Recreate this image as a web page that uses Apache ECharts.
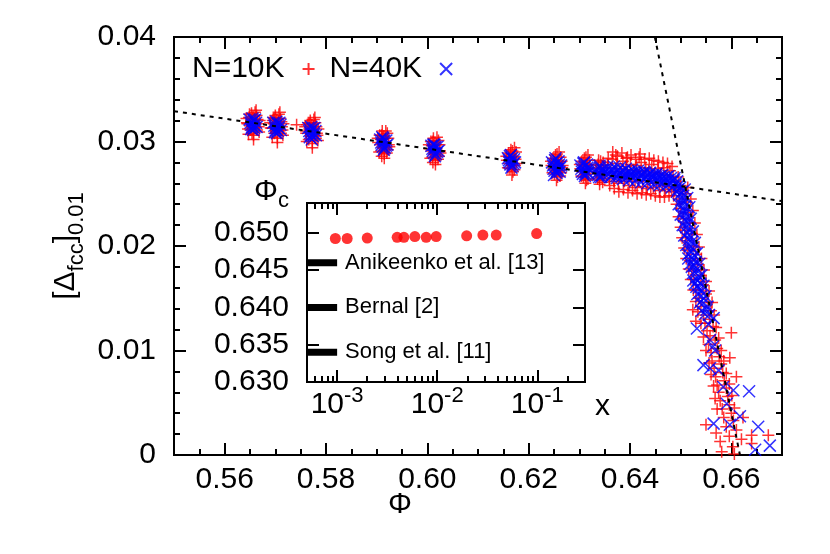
<!DOCTYPE html>
<html>
<head>
<meta charset="utf-8">
<script src="https://cdn.jsdelivr.net/npm/echarts@6/dist/echarts.min.js"></script>
<style>
  html, body { margin: 0; background: #fff; }
  #chart { width: 830px; height: 554px; }
</style>
</head>
<body>
<div id="chart"></div>
<script>
  var FONT = '"Liberation Sans", Arial, Helvetica, sans-serif';

  // ---- main panel ----
  var phiMin = 0.55, phiMax = 0.67;
  var phiTicks = [0.56, 0.58, 0.60, 0.62, 0.64, 0.66];
  var phiMinor = [0.555, 0.565, 0.57, 0.575, 0.585, 0.59, 0.595, 0.605, 0.61, 0.615, 0.625, 0.63, 0.635, 0.645, 0.65, 0.655, 0.665];
  var deltaMin = 0, deltaMax = 0.04;
  var deltaTicks = [0.01, 0.02, 0.03];
  var deltaMinor = [0.002, 0.004, 0.006, 0.008, 0.012, 0.014, 0.016, 0.018, 0.022, 0.024, 0.026, 0.028, 0.032, 0.034, 0.036, 0.038];

  // N=10K  (phi, [Delta_fcc]_0.01)
  var n10k = [
    [0.5644,0.0318],[0.5648,0.0323],[0.5651,0.0311],[0.5653,0.0327],[0.5655,0.0316],[0.5657,0.0306],[0.5659,0.0321],
    [0.5661,0.0313],[0.5663,0.0325],[0.5666,0.0317],[0.5668,0.0309],[0.5650,0.0315],[0.5662,0.0330],[0.5646,0.0312],
    [0.5643,0.0322],[0.5647,0.0307],[0.5652,0.0320],[0.5654,0.0308],[0.5656,0.0324],[0.5658,0.0313],[0.5660,0.0328],
    [0.5664,0.0311],[0.5665,0.0321],[0.5667,0.0314],[0.5669,0.0320],[0.5645,0.0317],[0.5657,0.0302],[0.5660,0.0318],[0.5649,0.0326],
    [0.5691,0.0313],[0.5695,0.0320],[0.5698,0.0308],[0.5700,0.0325],[0.5702,0.0315],[0.5704,0.0303],[0.5706,0.0319],
    [0.5708,0.0310],[0.5710,0.0322],[0.5713,0.0314],[0.5715,0.0306],[0.5697,0.0317],[0.5709,0.0328],
    [0.5690,0.0318],[0.5694,0.0304],[0.5699,0.0322],[0.5701,0.0310],[0.5703,0.0321],[0.5705,0.0311],[0.5707,0.0326],
    [0.5711,0.0308],[0.5712,0.0319],[0.5714,0.0311],[0.5716,0.0317],[0.5693,0.0313],[0.5704,0.0299],[0.5706,0.0315],[0.5696,0.0323],
    [0.5760,0.0310],[0.5763,0.0316],[0.5766,0.0302],[0.5769,0.0320],[0.5771,0.0309],[0.5773,0.0298],[0.5775,0.0314],
    [0.5777,0.0305],[0.5779,0.0318],[0.5782,0.0308],[0.5784,0.0301],[0.5767,0.0312],[0.5778,0.0323],[0.5742,0.0316],
    [0.5759,0.0314],[0.5762,0.0300],[0.5768,0.0317],[0.5770,0.0305],[0.5772,0.0316],[0.5774,0.0306],[0.5776,0.0321],
    [0.5780,0.0303],[0.5781,0.0314],[0.5783,0.0306],[0.5785,0.0312],[0.5761,0.0308],[0.5773,0.0294],[0.5775,0.0310],[0.5765,0.0318],
    [0.5903,0.0299],[0.5906,0.0306],[0.5909,0.0291],[0.5911,0.0310],[0.5913,0.0298],[0.5915,0.0288],[0.5917,0.0303],
    [0.5919,0.0294],[0.5921,0.0308],[0.5924,0.0297],[0.5908,0.0302],[0.5920,0.0289],
    [0.5902,0.0303],[0.5905,0.0290],[0.5910,0.0306],[0.5912,0.0294],[0.5914,0.0305],[0.5916,0.0295],[0.5918,0.0310],
    [0.5922,0.0292],[0.5923,0.0303],[0.5925,0.0295],[0.5907,0.0297],[0.5915,0.0284],[0.5917,0.0299],[0.5910,0.0286],
    [0.6004,0.0293],[0.6007,0.0300],[0.6010,0.0285],[0.6012,0.0303],[0.6014,0.0292],[0.6016,0.0282],[0.6018,0.0297],
    [0.6020,0.0287],[0.6022,0.0301],[0.6025,0.0291],[0.6009,0.0296],[0.6021,0.0283],
    [0.6003,0.0297],[0.6006,0.0284],[0.6011,0.0300],[0.6013,0.0288],[0.6015,0.0299],[0.6017,0.0289],[0.6019,0.0304],
    [0.6023,0.0286],[0.6024,0.0297],[0.6026,0.0289],[0.6008,0.0291],[0.6016,0.0278],[0.6018,0.0293],[0.6011,0.0280],
    [0.6157,0.0282],[0.6160,0.0289],[0.6163,0.0274],[0.6165,0.0292],[0.6167,0.0281],[0.6169,0.0271],[0.6171,0.0286],
    [0.6173,0.0277],[0.6175,0.0290],[0.6162,0.0285],[0.6172,0.0273],
    [0.6156,0.0286],[0.6159,0.0275],[0.6164,0.0288],[0.6166,0.0277],[0.6168,0.0291],[0.6170,0.0279],[0.6172,0.0294],
    [0.6174,0.0283],[0.6176,0.0279],[0.6161,0.0279],[0.6167,0.0268],[0.6169,0.0285],
    [0.6245,0.0277],[0.6248,0.0284],[0.6251,0.0269],[0.6253,0.0287],[0.6255,0.0276],[0.6257,0.0266],[0.6259,0.0281],
    [0.6261,0.0272],[0.6263,0.0285],[0.6266,0.0275],[0.6250,0.0280],[0.6262,0.0267],
    [0.6244,0.0281],[0.6247,0.0270],[0.6252,0.0283],[0.6254,0.0272],[0.6256,0.0288],[0.6258,0.0274],[0.6260,0.0290],
    [0.6264,0.0270],[0.6265,0.0281],[0.6267,0.0277],[0.6249,0.0274],[0.6255,0.0263],[0.6258,0.0279],
    [0.6302,0.0274],[0.6305,0.0281],[0.6308,0.0266],[0.6310,0.0284],[0.6312,0.0273],[0.6314,0.0263],[0.6316,0.0278],
    [0.6318,0.0269],[0.6320,0.0282],[0.6307,0.0277],[0.6317,0.0264],
    [0.6301,0.0278],[0.6304,0.0267],[0.6309,0.0280],[0.6311,0.0269],[0.6313,0.0285],[0.6315,0.0271],[0.6317,0.0287],
    [0.6319,0.0274],[0.6321,0.0277],[0.6306,0.0271],[0.6312,0.0260],[0.6314,0.0277],
    [0.6334,0.0271],[0.6337,0.0278],[0.6340,0.0263],[0.6342,0.0281],[0.6344,0.0270],[0.6346,0.0261],[0.6348,0.0275],[0.6339,0.0266],
    [0.6333,0.0275],[0.6336,0.0264],[0.6338,0.0282],[0.6341,0.0268],[0.6343,0.0277],[0.6345,0.0265],[0.6347,0.0280],[0.6349,0.0270],[0.6340,0.0259],
    [0.6356,0.0278],[0.6359,0.0264],[0.6362,0.0275],[0.6365,0.0283],[0.6368,0.0262],[0.6371,0.0271],[0.6372,0.0287],
    [0.6374,0.0279],[0.6377,0.0260],[0.6380,0.0274],[0.6383,0.0266],[0.6386,0.0281],[0.6389,0.0262],[0.6392,0.0276],
    [0.6395,0.0285],[0.6395,0.0269],[0.6398,0.0258],[0.6401,0.0278],[0.6404,0.0264],[0.6407,0.0273],[0.6410,0.0256],
    [0.6413,0.0277],[0.6416,0.0262],[0.6419,0.0271],[0.6420,0.0288],[0.6422,0.0280],[0.6425,0.0257],[0.6428,0.0268],
    [0.6431,0.0275],[0.6434,0.0255],[0.6437,0.0272],[0.6440,0.0263],[0.6443,0.0278],[0.6446,0.0256],[0.6449,0.0270],
    [0.6452,0.0260],[0.6455,0.0274],[0.6458,0.0253],[0.6461,0.0269],[0.6464,0.0258],[0.6467,0.0275],[0.6470,0.0254],
    [0.6473,0.0268],[0.6476,0.0257],[0.6479,0.0272],[0.6482,0.0252],[0.6485,0.0266],[0.6488,0.0256],
    [0.6357,0.0284],[0.6360,0.0258],[0.6366,0.0290],[0.6369,0.0255],[0.6375,0.0286],[0.6378,0.0252],[0.6384,0.0289],
    [0.6387,0.0254],[0.6393,0.0284],[0.6396,0.0251],[0.6402,0.0287],[0.6405,0.0253],[0.6411,0.0283],[0.6414,0.0250],
    [0.6418,0.0285],[0.6423,0.0251],[0.6429,0.0283],[0.6432,0.0249],[0.6438,0.0284],[0.6441,0.0250],[0.6447,0.0282],
    [0.6450,0.0248],[0.6456,0.0281],[0.6459,0.0247],[0.6465,0.0280],[0.6468,0.0247],[0.6474,0.0279],[0.6477,0.0248],
    [0.6483,0.0276],[0.6486,0.0248],
    [0.6490,0.0262],[0.6495,0.0266],[0.6500,0.0258],[0.6503,0.0252],[0.6510,0.0250],[0.6497,0.0245],[0.6512,0.0242],
    [0.6500,0.0236],[0.6515,0.0232],[0.6505,0.0226],[0.6518,0.0222],[0.6508,0.0215],[0.6522,0.0212],[0.6510,0.0205],
    [0.6525,0.0200],[0.6514,0.0196],[0.6530,0.0192],[0.6518,0.0186],[0.6534,0.0182],[0.6522,0.0176],[0.6540,0.0172],
    [0.6526,0.0168],[0.6544,0.0163],[0.6530,0.0158],[0.6550,0.0154],[0.6536,0.0150],[0.6554,0.0146],[0.6540,0.0142],
    [0.6524,0.0139],[0.6560,0.0138],[0.6545,0.0134],[0.6530,0.0128],[0.6557,0.0130],[0.6548,0.0126],[0.6564,0.0123],
    [0.6552,0.0119],[0.6600,0.0117],[0.6558,0.0114],[0.6568,0.0110],[0.6555,0.0106],[0.6572,0.0102],[0.6560,0.0098],
    [0.6597,0.0093],[0.6576,0.0094],[0.6562,0.0090],[0.6580,0.0087],[0.6566,0.0083],[0.6583,0.0079],[0.6610,0.0075],
    [0.6569,0.0075],[0.6586,0.0071],[0.6572,0.0067],[0.6590,0.0064],[0.6575,0.0060],[0.6593,0.0056],[0.6578,0.0052],
    [0.6596,0.0048],[0.6582,0.0044],[0.6600,0.0040],[0.6623,0.0036],[0.6585,0.0036],[0.6604,0.0033],[0.6550,0.0029],
    [0.6590,0.0027],[0.6610,0.0024],[0.6570,0.0021],[0.6640,0.0019],[0.6596,0.0018],[0.6673,0.0019],[0.6620,0.0015],
    [0.6578,0.0013],[0.6603,0.0008],[0.6581,0.0003],[0.6606,0.0001],[0.6640,0.0011],
    [0.6488,0.0254],[0.6514,0.0256],[0.6492,0.0240],[0.6520,0.0245],[0.6496,0.0228],[0.6524,0.0234],[0.6500,0.0218],
    [0.6528,0.0222],[0.6503,0.0208],[0.6532,0.0211],[0.6507,0.0198],[0.6536,0.0199],[0.6511,0.0188],[0.6541,0.0188],
    [0.6516,0.0178],[0.6546,0.0177],[0.6520,0.0168],[0.6550,0.0166],[0.6525,0.0158],[0.6556,0.0157],[0.6530,0.0147],
    [0.6562,0.0146],[0.6534,0.0137],[0.6566,0.0134],[0.6540,0.0126],[0.6570,0.0122],[0.6545,0.0113],[0.6575,0.0112],
    [0.6550,0.0100],[0.6580,0.0100],[0.6556,0.0088],[0.6585,0.0090],[0.6560,0.0077],[0.6590,0.0078],[0.6565,0.0066],
    [0.6596,0.0068],[0.6568,0.0054],[0.6601,0.0057],[0.6572,0.0044],[0.6606,0.0045]
  ];

  // N=40K
  var n40k = [
    [0.5651,0.0318],[0.5654,0.0314],[0.5657,0.0320],[0.5659,0.0315],[0.5662,0.0318],[0.5656,0.0311],
    [0.5649,0.0321],[0.5653,0.0316],[0.5655,0.0322],[0.5658,0.0313],[0.5660,0.0321],[0.5663,0.0314],[0.5652,0.0312],
    [0.5698,0.0315],[0.5701,0.0311],[0.5704,0.0317],[0.5707,0.0313],[0.5710,0.0316],[0.5703,0.0308],
    [0.5696,0.0318],[0.5700,0.0313],[0.5702,0.0319],[0.5705,0.0310],[0.5708,0.0318],[0.5711,0.0311],[0.5699,0.0309],
    [0.5767,0.0310],[0.5770,0.0306],[0.5773,0.0312],[0.5776,0.0307],[0.5779,0.0310],[0.5772,0.0302],
    [0.5765,0.0313],[0.5769,0.0308],[0.5771,0.0314],[0.5774,0.0305],[0.5777,0.0313],[0.5780,0.0306],[0.5768,0.0304],
    [0.5909,0.0299],[0.5912,0.0295],[0.5915,0.0301],[0.5918,0.0296],[0.5914,0.0292],[0.5911,0.0304],
    [0.5907,0.0302],[0.5910,0.0297],[0.5913,0.0303],[0.5916,0.0294],[0.5919,0.0301],[0.5921,0.0297],
    [0.6010,0.0293],[0.6013,0.0289],[0.6016,0.0295],[0.6019,0.0290],[0.6015,0.0286],[0.6012,0.0297],
    [0.6008,0.0296],[0.6011,0.0291],[0.6014,0.0297],[0.6017,0.0288],[0.6020,0.0295],[0.6022,0.0291],
    [0.6161,0.0282],[0.6164,0.0278],[0.6167,0.0284],[0.6170,0.0279],[0.6166,0.0275],[0.6163,0.0286],
    [0.6159,0.0284],[0.6162,0.0280],[0.6165,0.0287],[0.6168,0.0277],[0.6171,0.0283],[0.6173,0.0280],
    [0.6248,0.0277],[0.6251,0.0272],[0.6254,0.0279],[0.6257,0.0274],[0.6260,0.0278],[0.6255,0.0270],[0.6252,0.0282],[0.6262,0.0275],
    [0.6246,0.0280],[0.6249,0.0274],[0.6253,0.0284],[0.6256,0.0272],[0.6259,0.0281],[0.6261,0.0271],[0.6264,0.0277],[0.6250,0.0268],
    [0.6304,0.0274],[0.6307,0.0269],[0.6310,0.0276],[0.6313,0.0271],[0.6316,0.0275],[0.6311,0.0267],[0.6308,0.0279],
    [0.6302,0.0277],[0.6305,0.0271],[0.6309,0.0280],[0.6312,0.0269],[0.6315,0.0278],[0.6317,0.0270],[0.6319,0.0274],
    [0.6336,0.0270],[0.6339,0.0266],[0.6342,0.0272],[0.6345,0.0268],[0.6341,0.0275],
    [0.6334,0.0273],[0.6337,0.0268],[0.6340,0.0277],[0.6343,0.0266],[0.6346,0.0273],[0.6348,0.0270],
    [0.6355,0.0273],[0.6358,0.0269],[0.6361,0.0272],[0.6364,0.0268],[0.6367,0.0273],[0.6370,0.0270],[0.6373,0.0267],
    [0.6376,0.0272],[0.6379,0.0269],[0.6382,0.0271],[0.6385,0.0267],[0.6388,0.0272],[0.6391,0.0269],[0.6394,0.0266],
    [0.6397,0.0271],[0.6400,0.0268],[0.6403,0.0270],[0.6406,0.0266],[0.6409,0.0271],[0.6412,0.0268],[0.6415,0.0265],
    [0.6418,0.0270],[0.6421,0.0267],[0.6424,0.0269],[0.6427,0.0265],[0.6430,0.0270],[0.6433,0.0267],[0.6436,0.0264],
    [0.6439,0.0269],[0.6442,0.0266],[0.6445,0.0268],[0.6448,0.0264],[0.6451,0.0268],[0.6454,0.0265],[0.6457,0.0262],
    [0.6460,0.0267],[0.6463,0.0264],[0.6466,0.0266],[0.6469,0.0262],[0.6472,0.0266],[0.6475,0.0263],[0.6478,0.0260],
    [0.6481,0.0265],[0.6484,0.0262],[0.6487,0.0263],[0.6490,0.0259],[0.6493,0.0262],[0.6496,0.0258],
    [0.6356,0.0276],[0.6362,0.0266],[0.6368,0.0276],[0.6374,0.0265],[0.6380,0.0275],[0.6386,0.0264],[0.6392,0.0274],
    [0.6398,0.0263],[0.6404,0.0273],[0.6410,0.0262],[0.6416,0.0272],[0.6422,0.0261],[0.6428,0.0271],[0.6434,0.0260],
    [0.6440,0.0270],[0.6446,0.0259],[0.6452,0.0269],[0.6458,0.0258],[0.6464,0.0268],[0.6470,0.0257],[0.6476,0.0267],
    [0.6482,0.0256],[0.6488,0.0265],[0.6494,0.0254],
    [0.6499,0.0256],[0.6502,0.0252],[0.6498,0.0249],[0.6505,0.0248],[0.6501,0.0244],[0.6507,0.0243],[0.6503,0.0239],
    [0.6509,0.0238],[0.6505,0.0234],[0.6511,0.0233],[0.6507,0.0229],[0.6513,0.0228],[0.6509,0.0224],[0.6515,0.0222],
    [0.6511,0.0218],[0.6517,0.0216],[0.6513,0.0212],[0.6519,0.0210],[0.6516,0.0206],[0.6522,0.0204],[0.6518,0.0200],
    [0.6524,0.0198],[0.6521,0.0194],[0.6527,0.0191],[0.6515,0.0188],[0.6524,0.0187],[0.6530,0.0185],[0.6522,0.0180],
    [0.6527,0.0181],[0.6533,0.0178],[0.6530,0.0174],[0.6536,0.0171],[0.6525,0.0167],[0.6533,0.0167],[0.6539,0.0164],
    [0.6531,0.0161],[0.6536,0.0160],[0.6542,0.0157],[0.6540,0.0152],[0.6546,0.0150],[0.6544,0.0145],[0.6551,0.0139],
    [0.6548,0.0135],[0.6565,0.0131],[0.6532,0.0121],[0.6555,0.0125],[0.6558,0.0110],[0.6568,0.0100],[0.6564,0.0104],
    [0.6545,0.0086],[0.6575,0.0081],[0.6558,0.0083],[0.6584,0.0065],[0.6635,0.0061],[0.6604,0.0062],[0.6591,0.0049],
    [0.6617,0.0037],[0.6565,0.0030],[0.6597,0.0029],[0.6653,0.0027],[0.6647,0.0005],[0.6676,0.0009],
    [0.6493,0.0252],[0.6508,0.0254],[0.6496,0.0240],[0.6513,0.0246],[0.6500,0.0230],[0.6517,0.0237],[0.6504,0.0220],
    [0.6520,0.0226],[0.6507,0.0210],[0.6524,0.0214],[0.6511,0.0201],[0.6528,0.0203],[0.6515,0.0192],[0.6532,0.0193],
    [0.6519,0.0183],[0.6537,0.0183],[0.6524,0.0174],[0.6541,0.0172],[0.6528,0.0164],[0.6545,0.0162],[0.6533,0.0154],
    [0.6549,0.0152],[0.6538,0.0146],[0.6553,0.0142],[0.6541,0.0138],[0.6556,0.0134]
  ];

  // dotted fit lines
  var fitFlat = [[0.55, 0.0329], [0.67, 0.0243]];
  var fitSteep = [[0.6449, 0.0400], [0.6617, 0.0000]];

  // ---- inset ----
  var xMin = 0.0005, xMax = 0.3;
  var xMajor = [0.001, 0.01, 0.1];
  var xMinor = [0.0006, 0.0007, 0.0008, 0.0009,
                0.002, 0.003, 0.004, 0.005, 0.006, 0.007, 0.008, 0.009,
                0.02, 0.03, 0.04, 0.05, 0.06, 0.07, 0.08, 0.09,
                0.2];
  var phicMin = 0.630, phicMax = 0.654;
  var phicTicks = [0.630, 0.635, 0.640, 0.645, 0.650];
  var insetX = [0.00096, 0.00126, 0.0020, 0.00398, 0.00465, 0.00598, 0.00776, 0.00977, 0.0197, 0.0286, 0.0389, 0.0986];
  var insetPhic = [0.64924, 0.64924, 0.6493, 0.6494, 0.6494, 0.6495, 0.6494, 0.6495, 0.6496, 0.6497, 0.6497, 0.6499];
  var refNames = ['Anikeenko et al. [13]', 'Bernal [2]', 'Song et al. [11]'];
  var refValues = [0.646, 0.640, 0.634];
  var refBarEnd = 0.001;

  function txt() { return { fontFamily: FONT, fontSize: 30, color: '#000' }; }
  function subStyle(va) { return { fontFamily: FONT, fontSize: 22, color: '#000', verticalAlign: va, lineHeight: 22 }; }
  function tick(custom) {
    var t = { show: true, inside: true, length: 12, lineStyle: { color: '#000', width: 2 } };
    if (custom) t.customValues = custom;
    return t;
  }
  var noLine = { show: false, onZero: false };

  var xAxes = [
    { gridIndex: 0, type: 'value', min: phiMin, max: phiMax,
      axisLine: noLine, axisTick: tick(phiTicks), splitLine: { show: false },
      axisLabel: Object.assign({ margin: 10, customValues: phiTicks, formatter: function (v) { return v.toFixed(2); } }, txt()),
      name: 'Φ', nameLocation: 'middle', nameGap: 35, nameMoveOverlap: false,
      nameTextStyle: Object.assign({ padding: [0, 156, 0, 0] }, txt()) },
    { gridIndex: 1, type: 'log', logBase: 10, min: xMin, max: xMax,
      axisLine: noLine, axisTick: tick(xMajor), splitLine: { show: false },
      axisLabel: Object.assign({
        margin: 3, lineHeight: 40, customValues: xMajor,
        formatter: function (v) { return '10{sup|' + Math.round(Math.log10(v)) + '}'; },
        rich: { sup: subStyle('top') }
      }, txt()),
      name: 'x', nameLocation: 'end', nameGap: 10, nameMoveOverlap: false,
      nameTextStyle: Object.assign({ verticalAlign: 'top', padding: [10, 0, 0, 0] }, txt()) }
  ];

  var yAxes = [
    { gridIndex: 0, type: 'value', min: deltaMin, max: deltaMax, interval: 0.01,
      axisLine: noLine, axisTick: tick(), splitLine: { show: false },
      minorTick: { show: true, splitNumber: 5, length: 6, lineStyle: { color: '#000', width: 2 } },
      axisLabel: Object.assign({ margin: 18 }, txt()),
      name: '[Δ{sub|fcc}]{sub|0.01}', nameLocation: 'middle', nameRotate: 90, nameGap: 86, nameMoveOverlap: false,
      nameTextStyle: Object.assign({ lineHeight: 44, rich: { sub: subStyle('bottom') } }, txt()) },
    { gridIndex: 1, type: 'value', min: phicMin, max: phicMax,
      axisLine: noLine, axisTick: tick(phicTicks), splitLine: { show: false },
      axisLabel: Object.assign({ margin: 18, customValues: phicTicks, formatter: function (v) { return v.toFixed(3); } }, txt()),
      name: 'Φ{sub|c}', nameLocation: 'end', nameGap: -9, nameMoveOverlap: false,
      nameTextStyle: Object.assign({ align: 'right', padding: [0, 18, 0, 0], lineHeight: 40, rich: { sub: subStyle('bottom') } }, txt()) }
  ];

  var plus = 'path://M0,5H10M5,0V10';
  var cross = 'path://M0,0L10,10M10,0L0,10';
  var dotted = { color: '#000', width: 2, type: [4, 5] };

  var series = [
    { name: 'N=10K', type: 'scatter', xAxisIndex: 0, yAxisIndex: 0, data: n10k,
      symbol: plus, symbolSize: 12, itemStyle: { color: '#ff0000', borderColor: '#ff0000', borderWidth: 1.5 } },
    { name: 'N=40K', type: 'scatter', xAxisIndex: 0, yAxisIndex: 0, data: n40k,
      symbol: cross, symbolSize: 12, itemStyle: { color: '#0000ff', borderColor: '#0000ff', borderWidth: 1.5 } },
    { type: 'line', xAxisIndex: 0, yAxisIndex: 0, data: fitFlat, showSymbol: false, silent: true, lineStyle: dotted },
    { type: 'line', xAxisIndex: 0, yAxisIndex: 0, data: fitSteep, showSymbol: false, silent: true, lineStyle: dotted },
    { type: 'scatter', xAxisIndex: 1, yAxisIndex: 1, symbol: 'circle', symbolSize: 11, itemStyle: { color: '#ff0000' },
      data: insetX.map(function (x, i) { return [x, insetPhic[i]]; }) }
  ];
  refNames.forEach(function (name, i) {
    series.push({
      name: name, type: 'line', xAxisIndex: 1, yAxisIndex: 1, showSymbol: false, silent: true,
      data: [[xMin, refValues[i]], [refBarEnd, refValues[i]]],
      lineStyle: { color: '#000', width: 7, cap: 'butt' },
      endLabel: { show: true, formatter: name, distance: 8, fontFamily: FONT, fontSize: 22, color: '#000' }
    });
  });

  var chart = echarts.init(document.getElementById('chart'));
  chart.setOption({
    animation: false,
    grid: [
      { left: 174, right: 48, top: 37, bottom: 99, show: true, borderColor: '#000', borderWidth: 2 },
      { left: 307, top: 203, width: 278, height: 179, show: true, borderColor: '#000', borderWidth: 2 }
    ],
    legend: {
      data: ['N=10K', 'N=40K'], left: 192, top: 54, padding: 0, align: 'right',
      itemWidth: 12, itemHeight: 12, itemGap: 14, selectedMode: false,
      textStyle: Object.assign({ padding: [0, 13, 0, 0] }, txt())
    },
    xAxis: xAxes,
    yAxis: yAxes,
    series: series
  });

  // frame ticks on all four sides (mirrored, gnuplot style): each tick runs from
  // its value on the frame inward by a fixed pixel length, converted by the chart's own scales
  function atY(vals, y) { return vals.map(function (v) { return [v, y]; }); }
  function atX(vals, x) { return vals.map(function (v) { return [x, v]; }); }
  function segs(g, pts, dx, dy) {
    var finder = { xAxisIndex: g, yAxisIndex: g };
    return pts.map(function (p) {
      var a = chart.convertToPixel(finder, p);
      return { coords: [p, chart.convertFromPixel(finder, [a[0] + dx, a[1] + dy])] };
    });
  }
  function tickSeries(g, data) {
    return { type: 'lines', coordinateSystem: 'cartesian2d', xAxisIndex: g, yAxisIndex: g, silent: true,
      data: data, lineStyle: { color: '#000', width: 2, opacity: 1 } };
  }
  var mainTicks = [].concat(
    segs(0, atY(phiTicks, deltaMin), 0, -12), segs(0, atY(phiMinor, deltaMin), 0, -6),
    segs(0, atY(phiTicks, deltaMax), 0, 12), segs(0, atY(phiMinor, deltaMax), 0, 6),
    segs(0, atX(deltaTicks, phiMin), 12, 0), segs(0, atX(deltaMinor, phiMin), 6, 0),
    segs(0, atX(deltaTicks, phiMax), -12, 0), segs(0, atX(deltaMinor, phiMax), -6, 0)
  );
  var insetTicks = [].concat(
    segs(1, atY(xMajor, phicMin), 0, -12), segs(1, atY(xMinor, phicMin), 0, -6),
    segs(1, atY(xMajor, phicMax), 0, 12), segs(1, atY(xMinor, phicMax), 0, 6),
    segs(1, atX(phicTicks, xMin), 12, 0), segs(1, atX(phicTicks, xMax), -12, 0)
  );
  chart.setOption({ series: series.concat([tickSeries(0, mainTicks), tickSeries(1, insetTicks)]) });
</script>
</body>
</html>
